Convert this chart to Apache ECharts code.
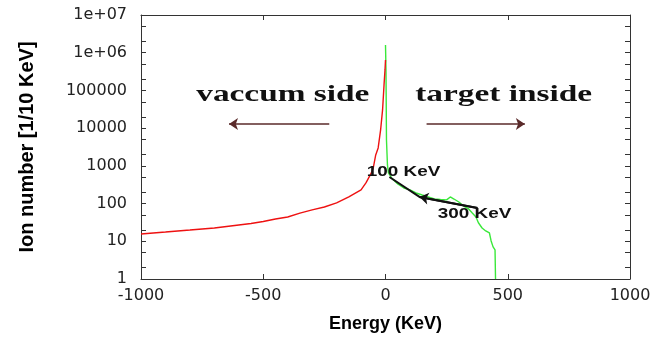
<!DOCTYPE html>
<html>
<head>
<meta charset="utf-8">
<script src="https://cdn.jsdelivr.net/npm/echarts@6/dist/echarts.min.js"></script>
<style>
  html, body { margin: 0; padding: 0; background: #fff; }
  #chart { width: 665px; height: 339px; }
</style>
</head>
<body>
<div id="chart"></div>
<script>
// vacuum side spectrum (red), energy in KeV
var redEnergy = [-1000, -950, -900, -850, -800, -750, -700, -650, -600, -550, -500, -450, -400, -350,
    -300, -250, -200, -150, -100, -80, -60, -50, -40, -30, -20, -12, -6, -2, 0];
var redCount = [15.6, 16.6, 17.6, 18.8, 19.9, 21.2, 22.5, 24.7, 27.1, 29.7, 33.5, 39, 44, 56,
    68, 81, 104, 150, 230, 352, 610, 880, 1950, 2990, 8950, 30400, 140000, 350000, 644000];

// target inside spectrum (green)
var greenEnergy = [0, 2, 4, 8, 12, 25, 50, 75, 100, 125, 150, 175, 200, 225, 250, 265, 280, 300,
    320, 340, 355, 370, 380, 395, 410, 425, 432, 440, 448, 450];
var greenCount = [1610000, 350000, 4860, 1057, 648, 478, 331, 259, 230, 191, 169, 150, 132, 128, 125, 150, 132, 110,
    86, 72, 56, 44, 31, 22.5, 18.8, 16.6, 10.2, 7.1, 5.9, 1];

// log axis ticks (majors + 2, 5 minors)
var yTicks = [1, 2, 5, 10, 20, 50, 100, 200, 500, 1000, 2000, 5000, 1e4, 2e4, 5e4,
    1e5, 2e5, 5e5, 1e6, 2e6, 5e6, 1e7];

// annotations, in data units
var slopeLine = [[16, 507], [139, 150], [376, 76]];
var leftArrow = [[-230, 12900], [-640, 12900]];
var rightArrow = [[168, 12900], [570, 12900]];
var noteText = ['vaccum side', 'target inside', '100 KeV', '300 KeV'];
var noteAt = [[-420, 76000], [483, 76000], [74, 690], [364, 53]];

function pairs(xs, ys) {
    var out = [];
    for (var i = 0; i < xs.length; i++) out.push([xs[i], ys[i]]);
    return out;
}

function yLabel(v) {
    if (v >= 1e6) return '1e+0' + Math.round(Math.log(v) / Math.LN10);
    return String(v);
}

var axisColor = '#333';
function ticks(values) {
    var t = { show: true, inside: true, length: 5, lineStyle: { color: '#333', width: 1 } };
    if (values) t.customValues = values;
    return t;
}
var labelFont = { fontFamily: 'DejaVu Sans', fontSize: 16, color: '#222' };

var myChart = echarts.init(document.getElementById('chart'));
myChart.setOption({
    animation: false,
    backgroundColor: '#fff',
    grid: { left: 141, right: 35, top: 15, bottom: 60 },
    xAxis: [{
        type: 'value', min: -1000, max: 1000, interval: 500,
        name: 'Energy (KeV)', nameLocation: 'middle', nameGap: 36,
        nameTextStyle: { fontFamily: 'Liberation Sans', fontWeight: 'bold', fontSize: 18, color: '#000' },
        axisLine: { show: true, onZero: false, lineStyle: { color: axisColor, width: 1 } },
        axisTick: ticks(),
        axisLabel: Object.assign({ margin: 9, formatter: function (v) { return String(v); } }, labelFont),
        splitLine: { show: false }
    }, {
        type: 'value', min: -1000, max: 1000, interval: 500, position: 'top',
        axisLine: { show: true, onZero: false, lineStyle: { color: axisColor, width: 1 } },
        axisTick: ticks(),
        axisLabel: { show: false },
        splitLine: { show: false }
    }],
    yAxis: [{
        type: 'log', min: 1, max: 1e7, position: 'left',
        name: 'Ion number [1/10 KeV]', nameLocation: 'middle', nameGap: 104,
        nameTextStyle: { fontFamily: 'Liberation Sans', fontWeight: 'bold', fontSize: 20, color: '#000' },
        axisLine: { show: true, onZero: false, lineStyle: { color: axisColor, width: 1 } },
        axisTick: ticks(yTicks),
        axisLabel: Object.assign({ margin: 14, formatter: yLabel }, labelFont),
        splitLine: { show: false }
    }, {
        type: 'log', min: 1, max: 1e7, position: 'right',
        axisLine: { show: true, onZero: false, lineStyle: { color: axisColor, width: 1 } },
        axisTick: ticks(yTicks),
        axisLabel: { show: false },
        splitLine: { show: false }
    }],
    series: [{
        name: 'vaccum side',
        type: 'line',
        data: pairs(redEnergy, redCount),
        showSymbol: false,
        clip: true,
        z: 3,
        lineStyle: { color: '#ee1111', width: 1.4 },
        itemStyle: { color: '#ee1111' }
    }, {
        name: 'target inside',
        type: 'line',
        data: pairs(greenEnergy, greenCount),
        showSymbol: false,
        clip: true,
        z: 2,
        lineStyle: { color: '#3ae83a', width: 1.4 },
        itemStyle: { color: '#3ae83a' }
    }, {
        name: 'slope',
        type: 'line',
        data: slopeLine,
        showSymbol: false,
        z: 4,
        lineStyle: { color: '#111', width: 2 },
        itemStyle: { color: '#111' },
        silent: true,
        markLine: {
            silent: true,
            symbol: ['none', 'arrow'],
            symbolSize: 9,
            label: { show: false },
            emphasis: { disabled: true },
            data: [
                [{ coord: slopeLine[2], lineStyle: { color: '#111', width: 2, type: 'solid' } },
                 { coord: slopeLine[1] }],
                [{ coord: leftArrow[0], lineStyle: { color: '#5a2a2a', width: 1.5, type: 'solid' } },
                 { coord: leftArrow[1] }],
                [{ coord: rightArrow[0], lineStyle: { color: '#5a2a2a', width: 1.5, type: 'solid' } },
                 { coord: rightArrow[1] }]
            ]
        }
    }]
});

// text notes placed from data units
var noteStyle = [
    { font: 'bold 23px "Liberation Serif"', scaleX: 1.45 },
    { font: 'bold 23px "Liberation Serif"', scaleX: 1.45 },
    { font: 'bold 14px "Liberation Sans"', scaleX: 1.35 },
    { font: 'bold 14px "Liberation Sans"', scaleX: 1.35 }
];
var graphics = [];
for (var i = 0; i < noteText.length; i++) {
    var p = myChart.convertToPixel({ gridIndex: 0 }, noteAt[i]);
    graphics.push({
        type: 'text',
        x: p[0], y: p[1],
        scaleX: noteStyle[i].scaleX,
        silent: true,
        z: 100,
        style: {
            text: noteText[i],
            font: noteStyle[i].font,
            fill: '#111',
            align: 'center',
            verticalAlign: 'middle',
            textAlign: 'center',
            textVerticalAlign: 'middle'
        }
    });
}
myChart.setOption({ graphic: graphics });
</script>
</body>
</html>
